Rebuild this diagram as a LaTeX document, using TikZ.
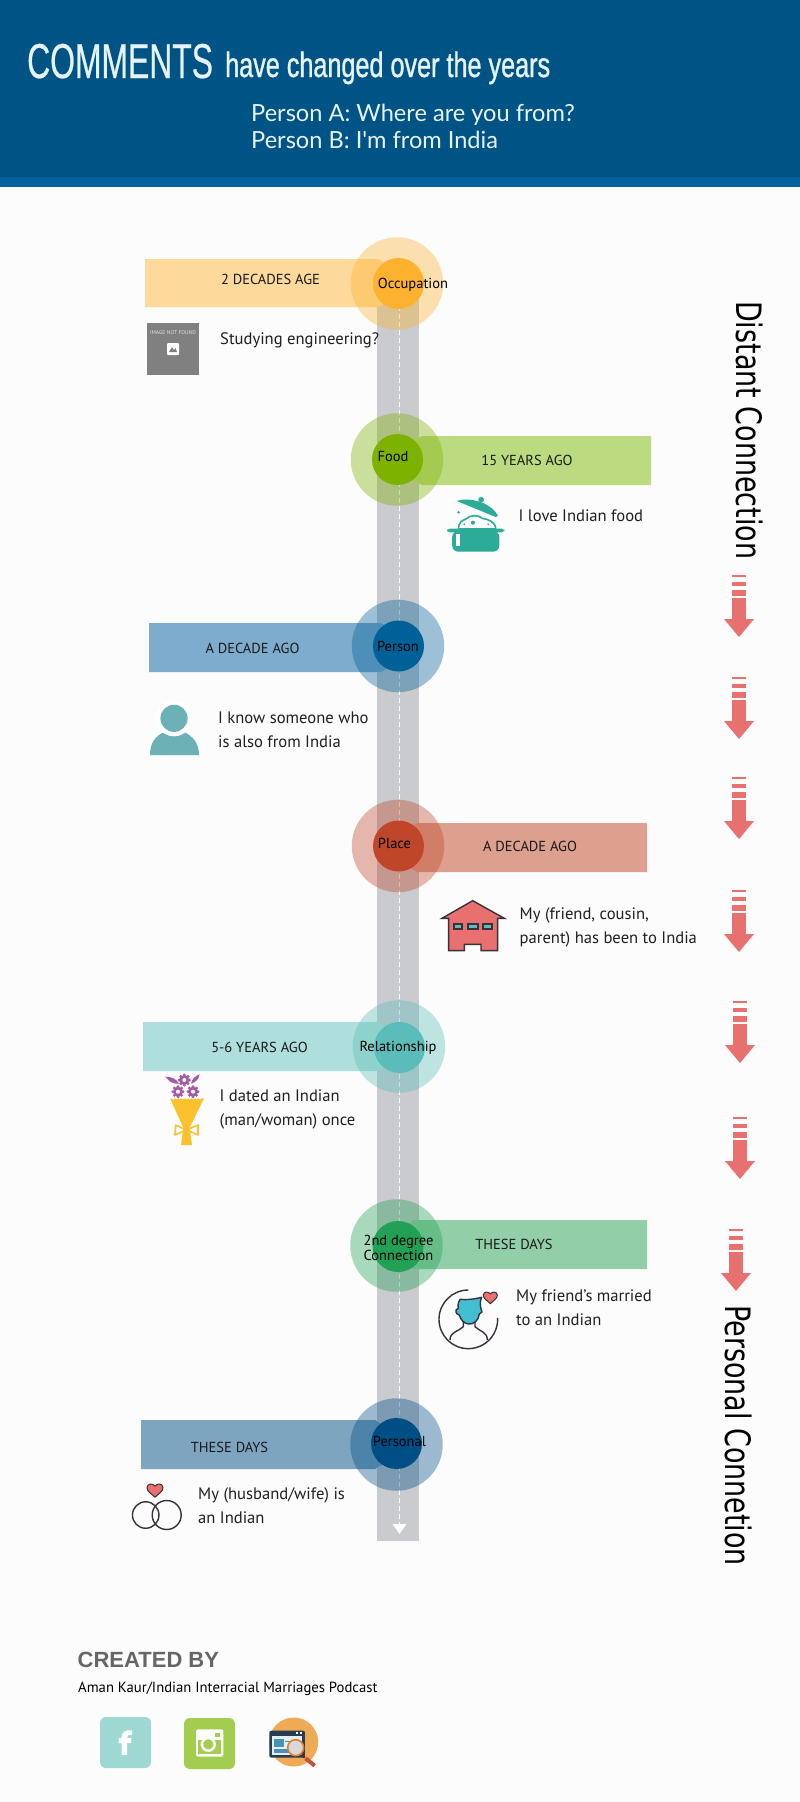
\documentclass[tikz,border=0pt]{standalone}
\usepackage{fontspec}
\setmainfont{PT Sans}
\newfontfamily\headfont[FakeStretch=0.65,FakeBold=0.5]{Liberation Sans}
\newfontfamily\subheadfont[FakeStretch=0.72,FakeBold=1]{Liberation Sans}
\newfontfamily\personfont{Lato}
\newfontfamily\sidefont[FakeStretch=0.77]{DejaVu Sans}
\newfontfamily\creditfont{Liberation Sans}
\definecolor{headblue}{HTML}{005485}
\definecolor{bandblue}{HTML}{05609E}
\definecolor{headtext}{HTML}{E6F3FA}
\definecolor{trackgray}{HTML}{C9CBCE}
\definecolor{arrowred}{HTML}{E8706F}
\definecolor{iconink}{HTML}{38303A}
\definecolor{potgreen}{HTML}{2BAB98}
\definecolor{usergreen}{HTML}{6CB1B6}
\definecolor{friendteal}{HTML}{43BDD0}
\definecolor{bunchpurple}{HTML}{A35BA8}
\definecolor{bunchyellow}{HTML}{FCC22E}
\definecolor{occbar}{HTML}{FDD99B}
\definecolor{foodbar}{HTML}{BCDB80}
\definecolor{personbar}{HTML}{7EACCE}
\definecolor{placebar}{HTML}{DD9F8E}
\definecolor{relbar}{HTML}{AEDFDC}
\definecolor{seconbar}{HTML}{92CFA8}
\definecolor{ownbar}{HTML}{7EA5C0}
\definecolor{occdot}{HTML}{FDB22F}
\definecolor{fooddot}{HTML}{7DB200}
\definecolor{persondot}{HTML}{006098}
\definecolor{placedot}{HTML}{C0462A}
\definecolor{reldot}{HTML}{5BBDB9}
\definecolor{secondot}{HTML}{22A055}
\definecolor{owndot}{HTML}{004E86}
\definecolor{fbtile}{HTML}{9DD9D2}
\definecolor{instatile}{HTML}{A2CD4F}
\definecolor{sitecircle}{HTML}{EEAA55}
\begin{document}
\begin{tikzpicture}[x=1pt,y=-1pt]
\tikzset{outerring/.style={circle,minimum size=92.5pt,inner sep=0pt,fill opacity=0.38}}
\tikzset{innerdot/.style={circle,minimum size=51pt,inner sep=0pt}}
\tikzset{stagetext/.style={font=\fontsize{14.5}{16}\selectfont,text=black,inner sep=0pt,align=center}}
\tikzset{agetext/.style={font=\fontsize{14.5}{16}\selectfont,text=black!90,inner sep=0pt}}
\tikzset{saytext/.style={font=\fontsize{16.6}{24}\selectfont,text=black!88,inner sep=0pt,anchor=west,align=left}}
\tikzset{sidetext/.style={font=\sidefont\fontsize{35}{35}\selectfont,rotate=-90,anchor=base west,inner sep=0pt}}
\tikzset{iconline/.style={draw=iconink,line width=1.4pt}}
\tikzset{heartmark/.pic={
  \path[fill=arrowred,draw=iconink,line width=1pt] (0,9) .. controls (-4,5) and (-10,2) .. (-10,-3)
    .. controls (-10,-8) and (-3,-9) .. (0,-5) .. controls (3,-9) and (10,-8) .. (10,-3)
    .. controls (10,2) and (4,5) .. (0,9) -- cycle;
}}
\tikzset{flowerhead/.pic={
  \foreach \a in {0,45,...,315}
    \fill[bunchpurple] (\a:15) circle (5);
  \fill[bunchpurple] (0,0) circle (15);
  \fill[white] (0,0) circle (6);
}}
\useasboundingbox (0,0) rectangle (800,1802);
\fill[white!99!black] (0,0) rectangle (800,1802);

% header
\fill[headblue] (0,0) rectangle (800,177);
\fill[bandblue] (0,177) rectangle (800,187);
\node[anchor=base west,inner sep=0pt,text=headtext,font=\headfont\fontsize{49}{49}\selectfont] (titleWord) at (27,78) {COMMENTS};
\node[anchor=base west,inner sep=0pt,text=headtext,font=\subheadfont\fontsize{35}{35}\selectfont] (titleRest) at (225,77) {have changed over the years};
\node[anchor=base west,inner sep=0pt,text=headtext,font=\personfont\fontsize{23.6}{23.6}\selectfont] (personA) at (251,121) {Person A: Where are you from?};
\node[anchor=base west,inner sep=0pt,text=headtext,font=\personfont\fontsize{23.6}{23.6}\selectfont] (personB) at (251,148) {Person B: I'm from India};

% track
\fill[trackgray] (377,290) rectangle (418.5,1541);
\coordinate (trackTop) at (399.5,290);
\coordinate (trackEnd) at (399.5,1534);
\draw[white,line width=1.6pt,dash pattern=on 5pt off 3pt] (trackTop) -- (399.5,1524);
\fill[white] (trackEnd) -- (392.5,1524) -- (406.5,1524) -- cycle;

% bars
\fill[occbar] (145,259) -- (378,259) -- (388,265) -- (388,301) -- (378,307) -- (145,307) -- cycle;
\fill[foodbar] (651,436) -- (422,436) -- (412,442) -- (412,479) -- (422,485) -- (651,485) -- cycle;
\fill[personbar] (149,623) -- (381,623) -- (391,629) -- (391,666) -- (381,672) -- (149,672) -- cycle;
\fill[placebar] (647,823) -- (417,823) -- (407,829) -- (407,866) -- (417,872) -- (647,872) -- cycle;
\fill[relbar] (143,1022) -- (378,1022) -- (388,1028) -- (388,1065) -- (378,1071) -- (143,1071) -- cycle;
\fill[seconbar] (647,1220) -- (414,1220) -- (404,1226) -- (404,1263) -- (414,1269) -- (647,1269) -- cycle;
\fill[ownbar] (141,1420) -- (375,1420) -- (385,1426) -- (385,1463) -- (375,1469) -- (141,1469) -- cycle;

% rings
\node[outerring,fill=occdot] (occOuter) at (397,283.5) {};
\node[innerdot,fill=occdot] (occInner) at (398.5,283.5) {};
\node[outerring,fill=fooddot] (foodOuter) at (397,459.5) {};
\node[innerdot,fill=fooddot] (foodInner) at (397.5,459.5) {};
\node[outerring,fill=persondot] (personOuter) at (398,646) {};
\node[innerdot,fill=persondot] (personInner) at (398.5,646) {};
\node[outerring,fill=placedot] (placeOuter) at (398,846) {};
\node[innerdot,fill=placedot] (placeInner) at (398.5,846) {};
\node[outerring,fill=reldot] (relOuter) at (399,1046.5) {};
\node[innerdot,fill=reldot] (relInner) at (399.5,1047.5) {};
\node[outerring,fill=secondot] (seconOuter) at (396.5,1245.5) {};
\node[innerdot,fill=secondot] (seconInner) at (398,1246.5) {};
\node[outerring,fill=owndot] (ownOuter) at (396.5,1444.5) {};
\node[innerdot,fill=owndot] (ownInner) at (396.5,1443.5) {};

% stage names
\node[stagetext] (occName) at (413,284.5) {Occupation};
\node[stagetext] (foodName) at (393,457) {Food};
\node[stagetext] (personName) at (398,646) {Person};
\node[stagetext] (placeName) at (394.5,843) {Place};
\node[stagetext] (relName) at (398,1048) {Relationship};
\node[stagetext] (seconName) at (398.5,1247.5) {2nd degree\\[-1pt]Connection};
\node[stagetext] (ownName) at (399.5,1441) {Personal};

% ages
\node[agetext] (occAge) at (270.5,279) {2 DECADES AGE};
\node[agetext] (foodAge) at (527,460) {15 YEARS AGO};
\node[agetext] (personAge) at (252.5,648) {A DECADE AGO};
\node[agetext] (placeAge) at (530,846) {A DECADE AGO};
\node[agetext] (relAge) at (259.5,1047) {5-6 YEARS AGO};
\node[agetext] (seconAge) at (514,1244) {THESE DAYS};
\node[agetext] (ownAge) at (229.5,1447) {THESE DAYS};

% sayings
\node[saytext] (occSay) at (220,340) {Studying engineering?};
\node[saytext] (foodSay) at (518.5,516) {I love Indian food};
\node[saytext] (personSay) at (218,729.5) {I know someone who\\is also from India};
\node[saytext] (placeSay) at (519.5,927) {My (friend, cousin,\\parent) has been to India};
\node[saytext] (relSay) at (219.5,1109) {I dated an Indian\\(man/woman) once};
\node[saytext] (seconSay) at (516,1308) {My friend's married\\to an Indian};
\node[saytext] (ownSay) at (198,1506) {My (husband/wife) is\\an Indian};

% side
\node[sidetext] (distantText) at (736,301) {Distant Connection};
\node[sidetext] (closeText) at (725,1305) {Personal Connetion};
\foreach \cx/\tipy in {739/637,739/739,739/839,739/952,740/1063,740/1179,736/1291}{
  \fill[arrowred] (\cx-7,\tipy-39.5) rectangle (\cx+7,\tipy-18);
  \fill[arrowred] (\cx-15,\tipy-18) -- (\cx+15,\tipy-18) -- (\cx,\tipy) -- cycle;
  \fill[arrowred] (\cx-7,\tipy-47) rectangle (\cx+7,\tipy-41.5);
  \fill[arrowred] (\cx-7,\tipy-55) rectangle (\cx+7,\tipy-51);
  \fill[arrowred] (\cx-7,\tipy-62) rectangle (\cx+7,\tipy-60);
}

% missing picture
\fill[gray] (147,323) rectangle (199,375);
\node[inner sep=0pt,text=white!75!gray,font=\fontsize{5.5}{6}\selectfont] (missingText) at (173,333) {IMAGE NOT FOUND};
\fill[white,rounded corners=1pt] (167,343) rectangle (179,355);
\fill[gray] (169,352) -- (172,347) -- (174,350) -- (175.5,348) -- (177,352) -- cycle;

% pot
\begin{scope}[shift={(436.5,491)},x=0.357pt,y=-0.3333pt]
\fill[potgreen] (57,30) .. controls (85,18) and (150,30) .. (172,74) -- (166,78) -- cycle;
\fill[potgreen] (125,26) circle (8);
\path[fill=white,draw=potgreen,line width=1.6pt] (62,114) .. controls (60,92) and (75,88) .. (82,84) .. controls (95,70) and (120,72) .. (128,82) .. controls (145,85) and (165,92) .. (166,114) -- cycle;
\fill[potgreen] (102,95) circle (6);
\fill[potgreen] (78,100) circle (3);
\fill[potgreen] (145,100) circle (3);
\fill[potgreen] (62,64) circle (4);
\fill[potgreen,rounded corners=3pt] (30,113) rectangle (190,124);
\fill[potgreen,rounded corners=6pt] (44,120) rectangle (176,182);
\fill[white] (56,128) rectangle (66,165);
\end{scope}

% house
\begin{scope}[shift={(436,890)},x=0.3333pt,y=-0.3333pt]
\path[fill=arrowred,iconline] (110,32) -- (205,85) -- (185,85) -- (185,182) -- (135,182) -- (135,163) -- (85,163) -- (85,182) -- (38,182) -- (38,85) -- (18,85) -- cycle;
\foreach \wx/\wr in {50/82,93/130,138/170}{
  \fill[iconink] (\wx,100) rectangle (\wr,120);
  \fill[reldot] (\wx+6,106) rectangle (\wr-6,114);
}
\end{scope}

% user
\fill[usergreen] (150,755) .. controls (150,742) and (156,736) .. (164,732) -- (184,732) .. controls (192,736) and (199,742) .. (199,755) -- cycle;
\fill[white] (174,718.3) circle (18);
\fill[usergreen] (174,718.3) circle (13.6);

% bouquet
\begin{scope}[shift={(155,1065)},x=0.3333pt,y=-0.3333pt]
\fill[bunchpurple] (31,35) .. controls (50,35) and (65,42) .. (72,56) .. controls (55,58) and (42,50) .. (31,35) -- cycle;
\fill[bunchpurple] (134,28) .. controls (132,42) and (122,52) .. (108,56) .. controls (110,42) and (120,33) .. (134,28) -- cycle;
\path (88,45) pic {flowerhead};
\path (69,80) pic {flowerhead};
\path (114,80) pic {flowerhead};
\fill[bunchyellow] (45,100) \foreach \sx in {55,65,...,135}{ -- (\sx,104) -- (\sx+5,100)} -- (147,100) -- (104,188) -- (111,240) -- (78,240) -- (85,188) -- cycle;
\draw[bunchyellow,line width=1.6pt,line join=round] (94,195) -- (62,180) -- (60,210) -- cycle;
\draw[bunchyellow,line width=1.6pt,line join=round] (94,195) -- (129,180) -- (129,210) -- cycle;
\end{scope}

% friend
\begin{scope}[shift={(430,1280)},x=0.3333pt,y=-0.3333pt]
\draw[iconline] (115,30) arc (270:-3:88);
\draw[iconline] (60,180) .. controls (60,155) and (85,155) .. (100,140) -- (100,122);
\draw[iconline] (135,122) -- (135,140) .. controls (150,155) and (172,155) .. (172,180);
\path[fill=friendteal,iconline,line join=round] (90,58) .. controls (110,60) and (130,58) .. (155,52) .. controls (150,65) and (148,72) .. (156,96) -- (148,102) .. controls (146,122) and (130,134) .. (115,132) .. controls (100,130) and (92,118) .. (88,105) .. controls (78,104) and (72,88) .. (85,85) .. controls (83,72) and (85,65) .. (90,58) -- cycle;
\end{scope}
\path (490.3,1297.3) pic[scale=0.7] {heartmark};

% rings and heart
\node[circle,iconline,minimum size=26.5pt,inner sep=0pt] (ringLeft) at (145.7,1515) {};
\node[circle,iconline,minimum size=29pt,inner sep=0pt] (ringRight) at (166.7,1515) {};
\path (155,1490) pic[scale=0.8] {heartmark};

% credit
\node[anchor=base west,inner sep=0pt,text=black!60,font=\creditfont\bfseries\fontsize{22}{22}\selectfont] (creditHead) at (77.5,1667) {CREATED BY};
\node[anchor=base west,inner sep=0pt,text=black,font=\fontsize{14.7}{16}\selectfont] (creditName) at (78,1692) {Aman Kaur/Indian Interracial Marriages Podcast};

% facebook
\fill[fbtile,rounded corners=6pt] (100,1717) rectangle (151,1768);
\fill[white] (121.5,1755) -- (121.5,1743) -- (118.5,1743) -- (118.5,1738) -- (121.5,1738) .. controls (121.5,1732) and (125,1729.5) .. (132,1730.5) -- (132,1735) .. controls (128,1734.5) and (127,1735.5) .. (127,1738) -- (131.5,1738) -- (131,1743) -- (127,1743) -- (127,1755) -- cycle;

% instagram
\fill[instatile,rounded corners=6pt] (184,1718) rectangle (235,1769);
\begin{scope}[shift={(180,1710)},x=0.3333pt,y=-0.3333pt]
\fill[white,rounded corners=2pt] (48,58) rectangle (130,140);
\fill[instatile] (55,90) rectangle (123,133);
\fill[instatile] (106,68) rectangle (120,82);
\draw[white,line width=2.5pt,fill=instatile] (85,103) circle (19);
\end{scope}

% website
\fill[sitecircle] (293.7,1742) circle (24.5);
\begin{scope}[shift={(180,1710)},x=0.3333pt,y=-0.3333pt]
\fill[iconink!70!headblue,rounded corners=2pt] (268,62) rectangle (375,143);
\fill[white!90!headblue] (276,78) rectangle (366,135);
\fill[white] (348,65) rectangle (354,71);
\fill[white] (360,65) rectangle (366,71);
\fill[relbar!40!persondot] (283,88) rectangle (312,112);
\fill[relbar!40!persondot] (316,92) rectangle (335,96);
\fill[persondot!70!white] (283,118) rectangle (330,128);
\draw[iconink,line width=2pt] (365,133) -- (374,143);
\draw[placedot!80!arrowred,line width=4pt] (377,145) -- (404,167);
\draw[occdot!50!placedot,line width=1.6pt,fill=white!85!black] (347,113) circle (24);
\end{scope}
\end{tikzpicture}
\end{document}
